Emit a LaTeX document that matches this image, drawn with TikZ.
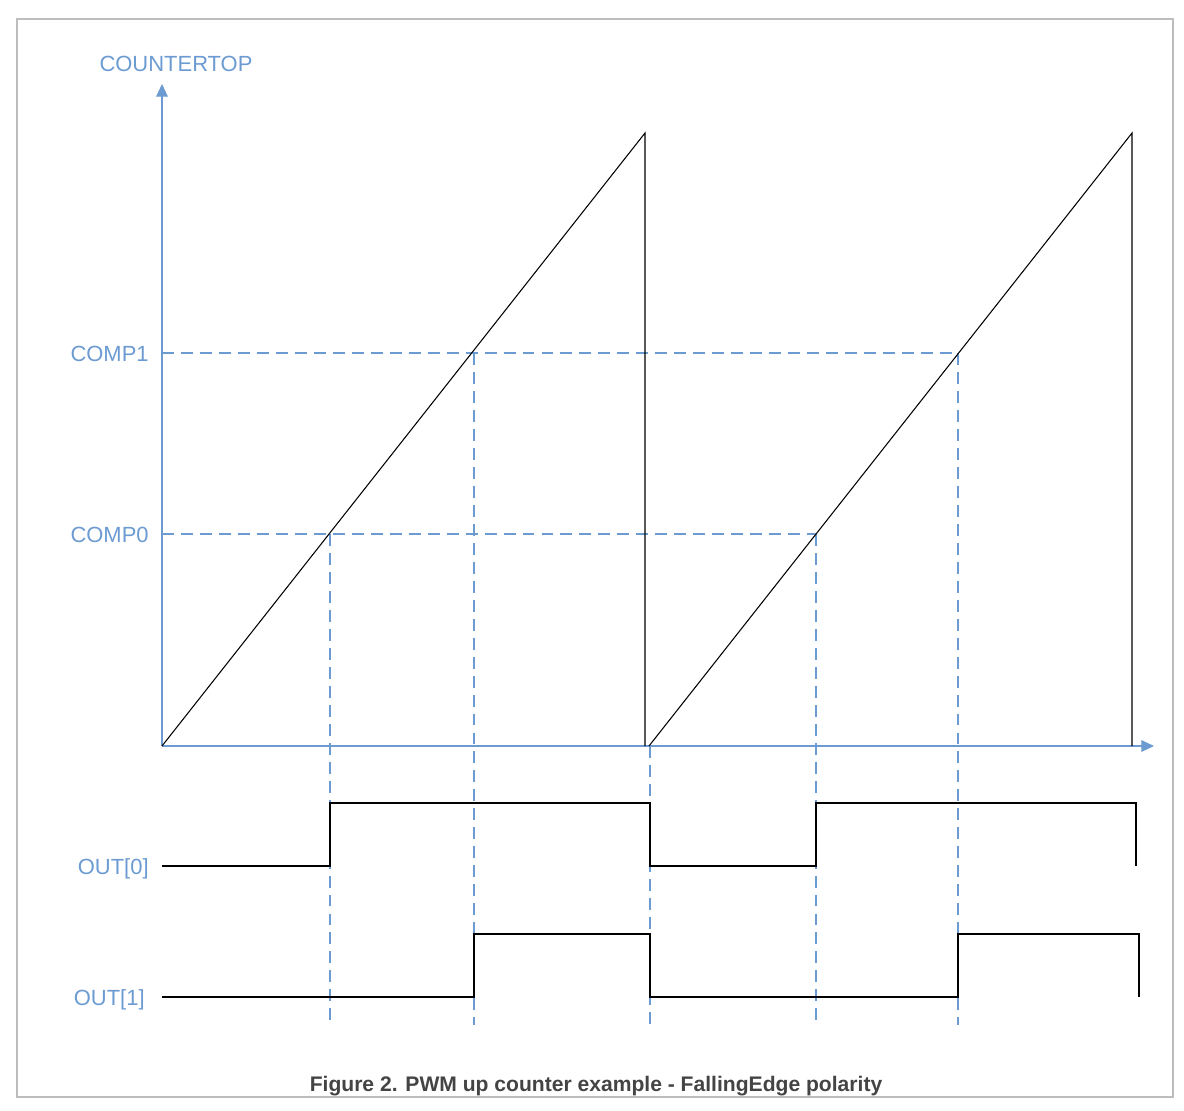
\documentclass[tikz,border=0pt]{standalone}
\usepackage{fontspec}
\setmainfont{Liberation Sans}
\usetikzlibrary{arrows.meta}
\definecolor{axisblue}{HTML}{6C9BD2}
\definecolor{framegray}{HTML}{BDBDBD}
\definecolor{capgray}{HTML}{444444}
\begin{document}
\begin{tikzpicture}[x=0.02cm,y=-0.02cm]
        \tikzstyle{axis} = [draw=axisblue, line width=0.7pt, -{Triangle[length=7.2pt,width=6.6pt]}]
        \tikzstyle{guide} = [draw=axisblue, line width=0.7pt, dash pattern=on 6.8pt off 4pt]
        \tikzstyle{ramp} = [draw=black, line width=0.6pt]
        \tikzstyle{signal} = [draw=black, line width=1.1pt]
        \tikzstyle{lbl} = [text=axisblue, inner sep=0pt, font=\fontsize{12.5}{15}\selectfont]

        \useasboundingbox (0,0) rectangle (1184,1110);
        \draw[framegray, line width=1.2pt] (17,19) rectangle (1173,1097);

        % axes
        \coordinate (origin) at (162,746);
        \draw[axis] (origin) -- (162,84);
        \draw[axis] (origin) -- (1154,746);

        \node (countertop) [lbl, anchor=base] at (176,71) {COUNTERTOP};
        \node (comp1) [lbl, anchor=base east] at (149,361) {COMP1};
        \node (comp0) [lbl, anchor=base east] at (149,542) {COMP0};
        \node (out0) [lbl, anchor=base east] at (149,874) {OUT[0]};
        \node (out1) [lbl, anchor=base east] at (145,1005) {OUT[1]};

        % compare levels
        \draw[guide] (162,353) -- (958,353);
        \draw[guide] (162,534) -- (816,534);
        \draw[guide] (330,534) -- (330,1025);
        \draw[guide] (474,353) -- (474,1025);
        \draw[guide] (650,746) -- (650,1025);
        \draw[guide] (816,534) -- (816,1025);
        \draw[guide] (958,353) -- (958,1025);

        % counter
        \draw[ramp] (origin) -- (645,133) -- (645,746);
        \draw[ramp] (649,746) -- (1132,133) -- (1132,746);

        % outputs
        \draw[signal] (162,866) -- (330,866) -- (330,803) -- (650,803) -- (650,866)
                -- (816,866) -- (816,803) -- (1136,803) -- (1136,866);
        \draw[signal] (162,997) -- (474,997) -- (474,934) -- (650,934) -- (650,997)
                -- (958,997) -- (958,934) -- (1139,934) -- (1139,997);

        \node (caption) [anchor=base, text=capgray, inner sep=0pt, font=\bfseries\fontsize{12}{14}\selectfont]
                at (596,1091) {Figure 2. PWM up counter example - FallingEdge polarity};
    \end{tikzpicture}
\end{document}
